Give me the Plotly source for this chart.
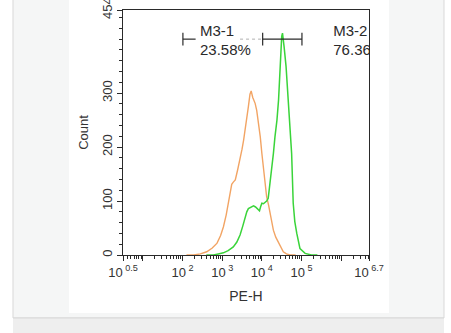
import math
import plotly.graph_objects as go

# Histogram outlines: log10(PE-H) bin positions and event counts
iso_log = [2.10, 2.28, 2.45, 2.61, 2.75, 2.87, 2.96, 3.03, 3.10, 3.16, 3.21, 3.24, 3.28, 3.33, 3.39,
           3.45, 3.50, 3.54, 3.58, 3.62, 3.66, 3.70, 3.73, 3.77, 3.80, 3.83, 3.87, 3.91, 3.96,
           4.00, 4.04, 4.08, 4.12, 4.17, 4.21, 4.25, 4.29, 4.35, 4.42, 4.48, 4.54, 4.62, 4.71, 4.85]
iso_cnt = [0, 0, 2, 6, 13, 22, 36, 52, 74, 96, 118, 131, 135, 139, 158,
           176, 196, 213, 232, 250, 275, 298, 304, 292, 287, 281, 268, 250, 219,
           188, 157, 130, 108, 92, 77, 62, 46, 33, 22, 13, 6, 2, 0, 0]

cd_log = [2.60, 2.78, 2.90, 3.03, 3.15, 3.28, 3.37, 3.45, 3.52, 3.58, 3.62, 3.66, 3.72, 3.79, 3.84,
          3.89, 3.94, 3.97, 4.00, 4.04, 4.08, 4.12, 4.16, 4.20, 4.25, 4.29, 4.33, 4.38, 4.42,
          4.46, 4.48, 4.50, 4.52, 4.54, 4.56, 4.61, 4.65, 4.69, 4.75, 4.79, 4.83, 4.88, 4.96,
          5.09, 5.25, 5.40]
cd_cnt = [0, 0, 2, 4, 8, 15, 24, 37, 54, 71, 80, 86, 89, 91, 89,
          86, 82, 90, 96, 95, 97, 100, 105, 130, 157, 188, 219, 250, 287,
          349, 392, 405, 411, 400, 386, 349, 300, 257, 188, 96, 62, 40, 12,
          3, 0, 0]

# Marker gates (log10 bounds) and their labels
gate_edges_log = [2.01, 4.02, 5.01]
gate_names = ["M3-1", "M3-2"]
gate_pcts = ["23.58%", "76.36%"]
gate_y = 400

x_ticks_log = [0.5, 1, 2, 3, 4, 5, 6, 6.7]
x_tick_text = ["10<sup> 0.5</sup>", "", "10<sup> 2</sup>", "10<sup> 3</sup>", "10<sup> 4</sup>",
               "10<sup> 5</sup>", "", "10<sup> 6.7</sup>"]
y_ticks = [0, 100, 200, 300, 454]
y_max = 454

ORANGE = "#f2a464"
GREEN = "#3ad43a"
INK = "#2a2a2a"
TXT = "#333333"
FONT = "Liberation Sans, Arial"

fig = go.Figure()

fig.add_trace(go.Scatter(x=[10 ** v for v in iso_log], y=iso_cnt, mode="lines",
                         line=dict(color=ORANGE, width=1.4), hoverinfo="skip"))
fig.add_trace(go.Scatter(x=[10 ** v for v in cd_log], y=cd_cnt, mode="lines",
                         line=dict(color=GREEN, width=1.5), hoverinfo="skip"))

# gate brackets
g0, g1, g2 = [10 ** v for v in gate_edges_log]
h = 12
bx, by = [], []
for g in (g0, g1, g2):
    bx += [g, g, None]
    by += [gate_y - h, gate_y + h, None]
fig.add_trace(go.Scatter(x=bx, y=by, mode="lines", line=dict(color=INK, width=1.2),
                         hoverinfo="skip"))
# M3-1 bar: short solid stub, then dotted grey run after the label
fig.add_trace(go.Scatter(x=[g0, 10 ** 2.33], y=[gate_y, gate_y], mode="lines",
                         line=dict(color=INK, width=1.2), hoverinfo="skip"))
fig.add_trace(go.Scatter(x=[10 ** 3.45, g1], y=[gate_y, gate_y], mode="lines",
                         line=dict(color="#b0b0b0", width=1, dash="dot"), hoverinfo="skip"))
# M3-2 bar
fig.add_trace(go.Scatter(x=[g1, g2], y=[gate_y, gate_y], mode="lines",
                         line=dict(color=INK, width=1.2), hoverinfo="skip"))

# gate labels (clipped by the plot frame)
fig.add_trace(go.Scatter(x=[10 ** 2.44, 10 ** 5.80], y=[412, 412], mode="text",
                         text=gate_names, textposition="middle right",
                         textfont=dict(family=FONT, size=15, color=INK),
                         cliponaxis=True, hoverinfo="skip"))
fig.add_trace(go.Scatter(x=[10 ** 2.44, 10 ** 5.80], y=[377, 377], mode="text",
                         text=gate_pcts, textposition="middle right",
                         textfont=dict(family=FONT, size=15, color=INK),
                         cliponaxis=True, hoverinfo="skip"))

# page panel behind the chart image
shapes = [
    dict(type="rect", xref="paper", yref="paper", x0=-0.4472, x1=1.3049, y0=-0.2571, y1=1.06,
         fillcolor="#f5f6f6", line=dict(color="#d9d9d9", width=1), layer="below"),
    dict(type="rect", xref="paper", yref="paper", x0=-0.4472, x1=1.3049, y0=-0.34, y1=-0.2571,
         fillcolor="#eeeeee", line=dict(width=0), layer="below"),
    dict(type="line", xref="paper", yref="paper", x0=-0.4472, x1=1.3049, y0=-0.2571, y1=-0.2571,
         line=dict(color="#d9d9d9", width=1), layer="below"),
    dict(type="rect", xref="paper", yref="paper", x0=-0.2195, x1=1.0813, y0=-0.2367, y1=1.07,
         fillcolor="white", line=dict(width=0), layer="below"),
]

fig.update_layout(
    width=451, height=333,
    margin=dict(l=123, r=82, t=10, b=78, autoexpand=False),
    paper_bgcolor="white", plot_bgcolor="rgba(0,0,0,0)",
    showlegend=False,
    font=dict(family=FONT, color=TXT, size=13),
    shapes=shapes,
    annotations=[dict(xref="paper", yref="paper", x=0.5, y=1.0, yanchor="bottom", yshift=13,
                      xanchor="center", showarrow=False,
                      text="CD31/PE-H <span style='color:#3ad43a'>M1 M2</span>",
                      font=dict(family=FONT, size=13, color=TXT))],
)

fig.update_xaxes(
    type="log", range=[0.5, 6.7], automargin=False,
    tickmode="array", tickvals=[10 ** v for v in x_ticks_log], ticktext=x_tick_text,
    ticks="outside", ticklen=5, tickcolor=INK, tickfont=dict(family=FONT, size=13, color=TXT),
    showline=True, linecolor=INK, linewidth=1, mirror=True, showgrid=False, zeroline=False,
    minor=dict(ticks="outside", ticklen=3, tickcolor=INK,
               tickvals=[m * 10 ** e for e in range(0, 7) for m in range(2, 10)
                         if 0.5 < (e + math.log10(m)) < 6.7]),
    title=dict(text="PE-H", font=dict(family=FONT, size=14, color=TXT), standoff=12),
)
fig.update_yaxes(
    range=[0, y_max], automargin=False, tickmode="array",
    tickvals=[min(v, y_max - 0.01) for v in y_ticks], ticktext=[str(v) for v in y_ticks],
    tickangle=-90, ticks="outside", ticklen=5, tickcolor=INK, ticklabeloverflow="allow",
    tickfont=dict(family=FONT, size=13, color=TXT),
    showline=True, linecolor=INK, linewidth=1, mirror=True, showgrid=False, zeroline=False,
    minor=dict(ticks="outside", ticklen=3, tickcolor=INK, dtick=20, tick0=0),
    title=dict(text="Count", font=dict(family=FONT, size=13, color=TXT), standoff=8),
)

fig.write_html("out.html")
